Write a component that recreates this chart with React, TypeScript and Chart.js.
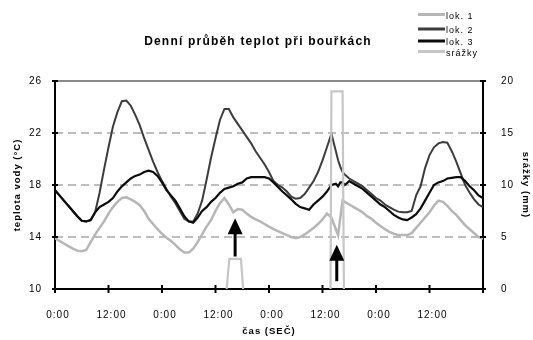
import React, { useEffect, useRef } from "react";
import { Chart, registerables } from "chart.js";

Chart.register(...registerables);

const FONT = "'Liberation Sans', Arial, Helvetica, sans-serif";

const chartTitle = "Denní průběh teplot při bouřkách";
const xAxisTitle = "čas (SEČ)";
const yAxisTitle = "teplota vody (°C)";
const y2AxisTitle = "srážky (mm)";
const seriesNames = ["lok. 1", "lok. 2", "lok. 3", "srážky"];
const seriesColors = ["#b6b6b6", "#3c3c3c", "#0c0c0c", "#c6c6c6"];
const xTickLabels = ["0:00", "12:00", "0:00", "12:00", "0:00", "12:00", "0:00", "12:00", ""];

// time in hours from the start
const hours = [
  0, 1, 2, 3, 4, 5, 6, 7, 8, 9, 10, 11,
  12, 13, 14, 15, 16, 17, 18, 19, 20, 21, 22, 23,
  24, 25, 26, 27, 28, 29, 30, 31, 32, 33, 34, 35,
  36, 37, 38, 39, 40, 41, 42, 43, 44, 45, 46, 47,
  48, 49, 50, 51, 52, 53, 54, 55, 56, 57, 58, 59,
  60, 61, 62, 63, 63.5, 64, 64.5, 65, 66, 67, 68, 69, 70, 71,
  72, 73, 74, 75, 76, 77, 78, 79, 80, 81, 82, 83,
  84, 85, 86, 87, 88, 89, 90, 91, 92, 93, 94, 95, 96,
];

const lok1 = [
  13.9, 13.7, 13.5, 13.3, 13.1, 12.95, 12.9, 13.0, 13.6, 14.2, 14.7, 15.2,
  15.8, 16.3, 16.7, 17.0, 17.05, 16.9, 16.7, 16.45, 16.0, 15.4, 15.0, 14.6,
  14.25, 13.95, 13.7, 13.4, 13.05, 12.8, 12.8, 13.1, 13.6, 14.2, 14.8, 15.3,
  16.0, 16.6, 17.0, 16.5, 15.9, 16.15, 16.1, 15.8, 15.55, 15.35, 15.2, 15.0,
  14.8, 14.6, 14.45, 14.3, 14.15, 14.0, 13.9, 14.0, 14.2, 14.45, 14.7, 15.0,
  15.35, 15.8, 15.5, 14.6, 14.15, 15.5, 16.8, 16.7, 16.5, 16.3, 16.1, 15.9, 15.6, 15.4,
  15.1, 14.85, 14.6, 14.4, 14.25, 14.15, 14.15, 14.15, 14.3, 14.7, 15.1, 15.5,
  15.9, 16.4, 16.8, 16.7, 16.4, 16.0, 15.7, 15.3, 14.9, 14.6, 14.3, 14.0, 13.85,
];

const lok2 = [
  17.6, 17.2, 16.8, 16.4, 16.0, 15.6, 15.25, 15.2, 15.3, 15.9, 17.4, 19.2,
  20.9, 22.5, 23.6, 24.45, 24.5, 24.1, 23.4, 22.6, 21.6, 20.7, 19.8, 19.0,
  18.3, 17.7, 17.1, 16.6, 16.0, 15.4, 15.2, 15.2, 15.8, 16.8, 18.4, 20.1,
  21.6, 23.0, 23.85, 23.85, 23.2, 22.7, 22.2, 21.7, 21.2, 20.6, 20.1, 19.6,
  19.0, 18.3, 18.0, 17.8, 17.5, 17.1, 16.95, 17.0, 17.3, 17.8, 18.3, 19.0,
  19.9, 20.9, 21.95, 20.6, 19.9, 19.4, 19.0, 18.8, 18.5, 18.3, 18.1, 17.9, 17.6, 17.3,
  17.0, 16.8, 16.5, 16.3, 16.1, 15.95, 15.9, 15.9, 16.0, 17.2, 17.9, 19.3,
  20.3, 20.9, 21.2, 21.3, 21.25, 20.6, 19.8, 18.9, 18.0, 17.4, 16.9, 16.5, 16.3,
];

const lok3 = [
  17.6, 17.2, 16.8, 16.4, 16.0, 15.6, 15.25, 15.2, 15.3, 15.9, 16.3, 16.5,
  16.7, 17.0, 17.5, 17.9, 18.2, 18.5, 18.7, 18.8, 19.0, 19.1, 19.0, 18.7,
  18.2, 17.6, 17.2, 16.8, 16.2, 15.6, 15.2, 15.1, 15.5, 16.0, 16.3, 16.7,
  17.0, 17.4, 17.7, 17.8, 17.9, 18.1, 18.2, 18.5, 18.6, 18.6, 18.6, 18.6,
  18.5, 18.2, 17.85, 17.5, 17.2, 16.9, 16.55, 16.3, 16.2, 16.1, 16.5, 16.8,
  17.1, 17.5, 18.0, 18.1, 17.9, 18.2, 18.2, 18.0, 18.3, 18.1, 17.9, 17.7, 17.4, 17.1,
  16.8, 16.5, 16.3, 16.0, 15.7, 15.5, 15.35, 15.3, 15.5, 15.75, 16.2, 16.8,
  17.4, 18.0, 18.2, 18.3, 18.5, 18.55, 18.6, 18.6, 18.3, 17.9, 17.6, 17.2, 17.0,
];

const precipHours = [38.5, 39.1, 41.7, 42.2, 52, 61.8, 62.0, 64.5, 64.8];
const precipMm = [0, 2.9, 2.9, 0, null, 0, 19, 19, 0];

// arrows marking the storms (hours, °C)
const arrowHours = [40.4, 63.2];
const arrowTipTemp = [15.45, 13.4];
const arrowTailTemp = [12.5, 10.6];

const dashedGridTemps = [14, 18, 22];

const decorPlugin = {
  id: "decor",
  beforeDraw(chart: any) {
    const ctx = chart.ctx;
    ctx.fillStyle = "#ffffff";
    ctx.fillRect(0, 0, chart.width, chart.height);
    (ctx as any).letterSpacing = "1px";
  },
  beforeDatasetsDraw(chart: any) {
    const { ctx, chartArea: a, scales } = chart;
    const y = scales.y;
    ctx.save();
    ctx.strokeStyle = "#a8a8a8";
    ctx.lineWidth = 1.5;
    ctx.setLineDash([8, 5]);
    for (const t of dashedGridTemps) {
      const py = y.getPixelForValue(t);
      ctx.beginPath();
      ctx.moveTo(a.left, py);
      ctx.lineTo(a.right, py);
      ctx.stroke();
    }
    ctx.setLineDash([]);
    ctx.strokeStyle = "#8a8a8a";
    ctx.lineWidth = 2;
    const top = y.getPixelForValue(y.max);
    ctx.beginPath();
    ctx.moveTo(a.left, top);
    ctx.lineTo(a.right, top);
    ctx.stroke();
    ctx.restore();
  },
  afterDatasetsDraw(chart: any) {
    const { ctx, scales } = chart;
    const x = scales.x;
    const y = scales.y;
    ctx.save();
    ctx.fillStyle = "#000";
    ctx.strokeStyle = "#000";
    for (let i = 0; i < arrowHours.length; i++) {
      const px = x.getPixelForValue(arrowHours[i]);
      const tip = y.getPixelForValue(arrowTipTemp[i]);
      const tail = y.getPixelForValue(arrowTailTemp[i]);
      const headH = 16;
      const headW = 7.5;
      ctx.lineWidth = 3;
      ctx.beginPath();
      ctx.moveTo(px, tail);
      ctx.lineTo(px, tip + headH - 1);
      ctx.stroke();
      ctx.beginPath();
      ctx.moveTo(px, tip);
      ctx.lineTo(px - headW, tip + headH);
      ctx.lineTo(px + headW, tip + headH);
      ctx.closePath();
      ctx.fill();
    }
    ctx.restore();
  },
  afterDraw(chart: any) {
    const { ctx, chartArea: a, scales } = chart;
    ctx.save();
    // crossing tick marks
    ctx.strokeStyle = "#000";
    ctx.lineWidth = 2;
    for (const t of scales.y.ticks) {
      const py = scales.y.getPixelForValue(t.value);
      ctx.beginPath();
      ctx.moveTo(a.left - 3, py);
      ctx.lineTo(a.left + 3, py);
      ctx.stroke();
    }
    for (const t of scales.y2.ticks) {
      const py = scales.y2.getPixelForValue(t.value);
      ctx.beginPath();
      ctx.moveTo(a.right - 3, py);
      ctx.lineTo(a.right + 3, py);
      ctx.stroke();
    }
    for (const t of scales.x.ticks) {
      const px = scales.x.getPixelForValue(t.value);
      ctx.beginPath();
      ctx.moveTo(px, a.bottom - 4);
      ctx.lineTo(px, a.bottom + 4);
      ctx.stroke();
    }
    // title
    (ctx as any).letterSpacing = "1.2px";
    ctx.fillStyle = "#000";
    ctx.font = `bold 12px ${FONT}`;
    ctx.textAlign = "center";
    ctx.textBaseline = "alphabetic";
    ctx.fillText(chartTitle, 258, 45);
    // legend
    (ctx as any).letterSpacing = "1px";
    ctx.font = `9px ${FONT}`;
    ctx.textAlign = "left";
    const rows = [14.5, 29, 41, 51.5];
    const widths = [3, 3, 3, 3];
    chart.data.datasets.forEach((ds: any, i: number) => {
      ctx.strokeStyle = ds.borderColor;
      ctx.lineWidth = widths[i];
      ctx.beginPath();
      ctx.moveTo(418, rows[i]);
      ctx.lineTo(445, rows[i]);
      ctx.stroke();
      ctx.fillStyle = "#000";
      ctx.fillText(ds.label, 446, rows[i] + 4);
    });
    ctx.restore();
  },
};

export default function App() {
  const ref = useRef<HTMLCanvasElement | null>(null);

  useEffect(() => {
    if (!ref.current) return;
    Chart.defaults.font.family = FONT;
    Chart.defaults.color = "#000";
    const chart = new Chart(ref.current, {
      type: "line",
      data: {
        datasets: [
          {
            label: seriesNames[0],
            data: hours.map((h, i) => ({ x: h, y: lok1[i] })),
            borderColor: seriesColors[0],
            borderWidth: 2.5,
            pointRadius: 0,
            tension: 0,
            yAxisID: "y",
            order: 4,
          },
          {
            label: seriesNames[1],
            data: hours.map((h, i) => ({ x: h, y: lok2[i] })),
            borderColor: seriesColors[1],
            borderWidth: 2,
            pointRadius: 0,
            tension: 0,
            yAxisID: "y",
            order: 3,
          },
          {
            label: seriesNames[2],
            data: hours.map((h, i) => ({ x: h, y: lok3[i] })),
            borderColor: seriesColors[2],
            borderWidth: 2.2,
            pointRadius: 0,
            tension: 0,
            yAxisID: "y",
            order: 2,
          },
          {
            label: seriesNames[3],
            data: precipHours.map((h, i) => ({ x: h, y: precipMm[i] })),
            borderColor: seriesColors[3],
            borderWidth: 2.2,
            pointRadius: 0,
            tension: 0,
            spanGaps: false,
            yAxisID: "y2",
            order: 1,
          },
        ],
      } as any,
      options: {
        animation: false,
        responsive: false,
        devicePixelRatio: 1,
        layout: { padding: { top: 81, left: 0, right: 0, bottom: 0 } },
        plugins: {
          legend: { display: false },
          tooltip: { enabled: false },
          title: { display: false },
        },
        scales: {
          x: {
            type: "linear",
            min: 0,
            max: 96,
            afterFit: (s: any) => {
              s.height = 51;
            },
            grid: { display: false },
            border: { display: true, color: "#000", width: 2 },
            ticks: {
              stepSize: 12,
              autoSkip: false,
              maxRotation: 0,
              padding: 12,
              labelOffset: 3,
              font: { size: 10 },
              callback: (_v: any, i: number) => xTickLabels[i] ?? "",
            },
            title: {
              display: true,
              text: xAxisTitle,
              font: { size: 9.5, weight: "bold" },
              padding: { top: 0, bottom: 3 },
            },
          },
          y: {
            type: "linear",
            position: "left",
            min: 10,
            max: 26,
            afterFit: (s: any) => {
              s.width = 55;
            },
            grid: { display: false },
            border: { display: true, color: "#000", width: 2 },
            ticks: { stepSize: 4, padding: 5, font: { size: 10 } },
            title: {
              display: true,
              text: yAxisTitle,
              font: { size: 9.5, weight: "bold" },
              padding: { top: 12, bottom: 0 },
            },
          },
          y2: {
            type: "linear",
            position: "right",
            min: 0,
            max: 20,
            afterFit: (s: any) => {
              s.width = 50;
            },
            grid: { display: false },
            border: { display: true, color: "#000", width: 2 },
            ticks: { stepSize: 5, padding: 10, font: { size: 10 } },
            title: {
              display: true,
              text: y2AxisTitle,
              font: { size: 9.5, weight: "bold" },
              padding: { top: 2, bottom: 0 },
            },
          },
        },
      } as any,
      plugins: [decorPlugin],
    });
    return () => chart.destroy();
  }, []);

  return (
    <div style={{ position: "absolute", left: 0, top: 0, width: 533, height: 340, background: "#fff" }}>
      <canvas ref={ref} width={533} height={340} style={{ display: "block" }} />
    </div>
  );
}
